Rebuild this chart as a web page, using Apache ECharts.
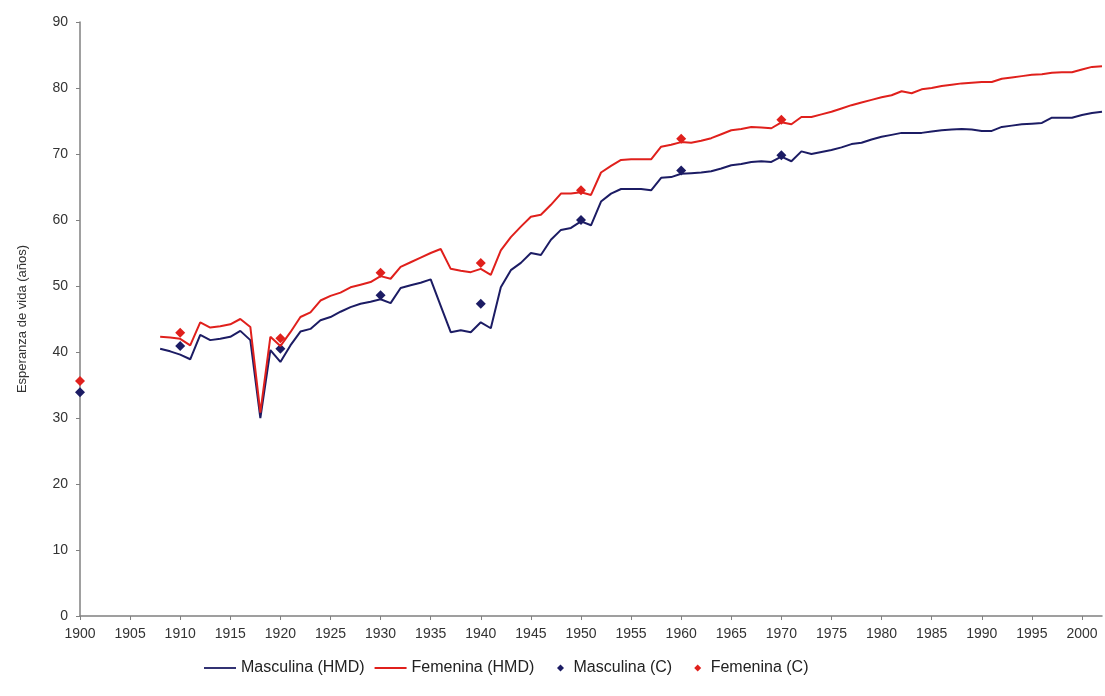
<!DOCTYPE html>
<html>
<head>
<meta charset="utf-8">
<script src="https://cdn.jsdelivr.net/npm/echarts@6/dist/echarts.min.js"></script>
<style>
html,body{margin:0;padding:0;background:#fff;}
#chart{width:1105px;height:696px;}
</style>
</head>
<body>
<div id="chart"></div>
<script>
const years = [];
for (let y = 1908; y <= 2002; y++) years.push(y);

const masculinaHMD = [
  40.5, 40.1, 39.6, 38.9, 42.6, 41.8, 42.0, 42.3, 43.2, 41.8,
  30.0, 40.3, 38.5, 41.0, 43.1, 43.5, 44.8, 45.3, 46.1, 46.8,
  47.3, 47.6, 48.0, 47.4, 49.7, 50.1, 50.5, 51.0, 47.0, 43.0,
  43.3, 43.0, 44.5, 43.6, 49.8, 52.4, 53.5, 55.0, 54.7, 57.0,
  58.5, 58.8, 59.8, 59.2, 62.8, 64.0, 64.7, 64.7, 64.7, 64.5,
  66.4, 66.5, 67.0, 67.1, 67.2, 67.4, 67.8, 68.3, 68.5, 68.8,
  68.9, 68.8, 69.6, 68.9, 70.4, 70.0, 70.3, 70.6, 71.0, 71.5,
  71.7, 72.2, 72.6, 72.9, 73.2, 73.2, 73.2, 73.4, 73.6, 73.7,
  73.8, 73.7, 73.5, 73.5, 74.1, 74.3, 74.5, 74.6, 74.7, 75.5,
  75.5, 75.5, 75.9, 76.2, 76.4
];

const femeninaHMD = [
  42.3, 42.2, 42.0, 41.0, 44.5, 43.7, 43.9, 44.2, 45.0, 43.8,
  30.8, 42.3, 40.9, 43.0, 45.3, 46.0, 47.8, 48.5, 49.0, 49.8,
  50.2, 50.6, 51.5, 51.1, 52.9, 53.6, 54.3, 55.0, 55.6, 52.6,
  52.3, 52.1, 52.6, 51.7, 55.4, 57.4, 59.0, 60.5, 60.8, 62.3,
  64.0, 64.0, 64.2, 63.8, 67.2, 68.2, 69.1, 69.2, 69.2, 69.2,
  71.1, 71.4, 71.8, 71.7, 72.0, 72.4, 73.0, 73.6, 73.8, 74.1,
  74.0, 73.9, 74.8, 74.5, 75.6, 75.6, 76.0, 76.4, 76.9, 77.4,
  77.8, 78.2, 78.6, 78.9, 79.5, 79.2, 79.8, 80.0, 80.3, 80.5,
  80.7, 80.8, 80.9, 80.9, 81.4, 81.6, 81.8, 82.0, 82.1, 82.3,
  82.4, 82.4, 82.8, 83.2, 83.3
];

const censusYears = [1900, 1910, 1920, 1930, 1940, 1950, 1960, 1970];
const masculinaC = [33.9, 40.9, 40.5, 48.6, 47.3, 60.0, 67.5, 69.8];
const femeninaC = [35.6, 42.9, 42.1, 52.0, 53.5, 64.5, 72.3, 75.2];

const seriesNames = ['Masculina (HMD)', 'Femenina (HMD)', 'Masculina (C)', 'Femenina (C)'];
const colMale = '#1c1c64';
const colFemale = '#e0201c';

const pair = (xs, vs) => xs.map((x, i) => [x, vs[i]]);

const lineIcon = 'path://M0,0H32V1.8H0Z';
const diamondIcon = 'path://M4,0L8,4L4,8L0,4Z';

const chart = echarts.init(document.getElementById('chart'));
chart.setOption({
  backgroundColor: '#ffffff',
  animation: false,
  textStyle: { fontFamily: 'Liberation Sans, Arial, sans-serif' },
  grid: { left: 80, right: 3, top: 22, bottom: 80, containLabel: false },
  legend: [
    {
      left: 199,
      top: 655,
      itemGap: 10,
      itemWidth: 32,
      itemHeight: 7,
      symbolKeepAspect: true,
      textStyle: { fontSize: 16, color: '#222' },
      data: [
        { name: seriesNames[0], icon: lineIcon },
        { name: seriesNames[1], icon: lineIcon }
      ]
    },
    {
      left: 552,
      top: 655,
      itemGap: 22,
      itemWidth: 8,
      itemHeight: 7,
      symbolKeepAspect: true,
      textStyle: { fontSize: 16, color: '#222', padding: [0, 0, 0, 4] },
      data: [
        { name: seriesNames[2], icon: diamondIcon },
        { name: seriesNames[3], icon: diamondIcon }
      ]
    }
  ],
  xAxis: {
    type: 'value',
    min: 1900,
    max: 2002,
    interval: 5,
    splitLine: { show: false },
    axisLine: { onZero: false, lineStyle: { color: '#808080', width: 1.5 } },
    axisTick: { inside: false, length: 4, lineStyle: { color: '#808080' } },
    axisLabel: { color: '#333', fontSize: 14, margin: 11, showMaxLabel: false, formatter: v => String(v) }
  },
  yAxis: {
    type: 'value',
    min: 0,
    max: 90,
    interval: 10,
    name: 'Esperanza de vida (años)',
    nameLocation: 'middle',
    nameGap: 51,
    nameTextStyle: { color: '#333', fontSize: 13 },
    splitLine: { show: false },
    axisLine: { show: true, lineStyle: { color: '#808080', width: 1.5 } },
    axisTick: { show: true, length: 4, lineStyle: { color: '#808080' } },
    axisLabel: { color: '#333', fontSize: 14, margin: 12 }
  },
  series: [
    {
      name: seriesNames[0], type: 'line', data: pair(years, masculinaHMD),
      symbol: 'none', lineStyle: { color: colMale, width: 2 }, itemStyle: { color: colMale }
    },
    {
      name: seriesNames[1], type: 'line', data: pair(years, femeninaHMD),
      symbol: 'none', lineStyle: { color: colFemale, width: 2 }, itemStyle: { color: colFemale }
    },
    {
      name: seriesNames[2], type: 'scatter', data: pair(censusYears, masculinaC),
      symbol: 'diamond', symbolSize: 10, itemStyle: { color: colMale, opacity: 1 }
    },
    {
      name: seriesNames[3], type: 'scatter', data: pair(censusYears, femeninaC),
      symbol: 'diamond', symbolSize: 10, itemStyle: { color: colFemale, opacity: 1 }
    }
  ]
});
</script>
</body>
</html>
